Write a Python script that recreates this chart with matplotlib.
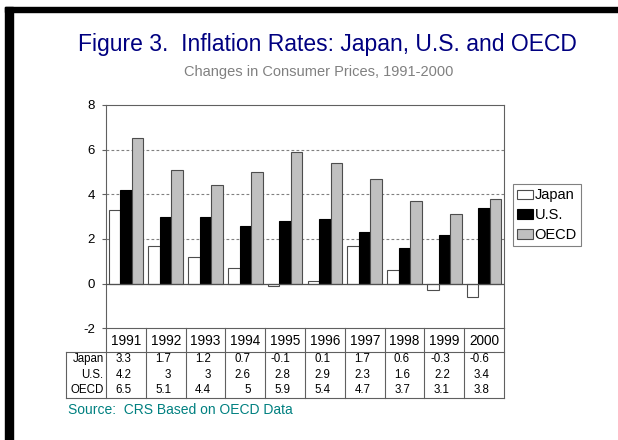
import matplotlib.pyplot as plt
import numpy as np
from matplotlib.patches import Rectangle
from matplotlib.lines import Line2D

plt.rcParams['font.family'] = ['Liberation Sans', 'DejaVu Sans']
plt.rcParams['axes.unicode_minus'] = False

# data
years = ["1991", "1992", "1993", "1994", "1995", "1996", "1997", "1998", "1999", "2000"]
japan = [3.3, 1.7, 1.2, 0.7, -0.1, 0.1, 1.7, 0.6, -0.3, -0.6]
us = [4.2, 3, 3, 2.6, 2.8, 2.9, 2.3, 1.6, 2.2, 3.4]
oecd = [6.5, 5.1, 4.4, 5, 5.9, 5.4, 4.7, 3.7, 3.1, 3.8]
series_names = ["Japan", "U.S.", "OECD"]

W, H = 618, 440
fig = plt.figure(figsize=(W / 100, H / 100), dpi=100)

# axes placed in pixel coords of the reference
ax_l, ax_r, ax_t, ax_b = 106, 504, 105, 328.3
ax = fig.add_axes([ax_l / W, 1 - ax_b / H, (ax_r - ax_l) / W, (ax_b - ax_t) / H])

def ay(py):
    # pixel row -> axes fraction (can go below 0 for the table)
    return (ax_b - py) / (ax_b - ax_t)

x = np.arange(len(years))
bw = 0.29
edge = "#4d4d4d"
ax.bar(x - bw, japan, bw, color="white", edgecolor=edge, linewidth=0.8, label=series_names[0], zorder=3)
ax.bar(x, us, bw, color="black", edgecolor="black", linewidth=0.8, label=series_names[1], zorder=3)
ax.bar(x + bw, oecd, bw, color="#c0c0c0", edgecolor=edge, linewidth=0.8, label=series_names[2], zorder=3)

ax.set_xlim(-0.5, len(years) - 0.5)
ax.set_ylim(-2, 8)
ax.set_yticks([-2, 0, 2, 4, 6, 8])
ax.set_xticks([])
ax.tick_params(axis='y', length=3, width=0.8, color="#606060", labelsize=9.5, pad=5)
for s in ax.spines.values():
    s.set_color("#606060")
    s.set_linewidth(0.8)

for g in [2, 4, 6]:
    ax.axhline(g, color="#808080", linestyle=(0, (2.5, 2)), linewidth=0.8, zorder=1)
ax.axhline(0, color="#505050", linewidth=0.9, zorder=4)

# legend
leg = ax.legend(loc="upper left", bbox_to_anchor=(512.5 / W, 1 - 184 / H), bbox_transform=fig.transFigure,
                frameon=True, fancybox=False, fontsize=10.5, handlelength=1.1, handleheight=0.6,
                handletextpad=0.1, borderpad=0.3, labelspacing=0.4, borderaxespad=0)
leg.get_frame().set_edgecolor("#606060")
leg.get_frame().set_linewidth(0.8)

# data table under the axis
tcol = "#606060"
y_head = 351.7
y_bot = 398
trans = ax.get_xaxis_transform()
for b in np.arange(-0.5, len(years) + 0.5):
    ax.add_line(Line2D([b, b], [ay(ax_b), ay(y_bot)], transform=trans, color=tcol, lw=0.8, clip_on=False))
ax.add_line(Line2D([-1.5, -1.5], [ay(y_head), ay(y_bot)], transform=trans, color=tcol, lw=0.8, clip_on=False))
for yy in [y_head, y_bot]:
    ax.add_line(Line2D([-1.5, len(years) - 0.5], [ay(yy), ay(yy)], transform=trans, color=tcol, lw=0.8, clip_on=False))

for i, yr in enumerate(years):
    ax.text(i, ay(340.5), yr, transform=trans, ha="center", va="center", fontsize=9.8)

rows = [japan, us, oecd]
row_y = [359.3, 374.8, 390.2]
for name, vals, py in zip(series_names, rows, row_y):
    ax.text(-0.56, ay(py), name, transform=trans, ha="right", va="center", fontsize=8.3)
    for i, v in enumerate(vals):
        ax.text(i + 0.14, ay(py), f"{v:g}", transform=trans, ha="right", va="center", fontsize=8.3)

# titles and source
fig.text(327 / W, 1 - 45 / H, "Figure 3.  Inflation Rates: Japan, U.S. and OECD", ha="center", va="center",
         fontsize=16.5, color="#000080")
fig.text(319 / W, 1 - 72 / H, "Changes in Consumer Prices, 1991-2000", ha="center", va="center",
         fontsize=10.5, color="#808080")
fig.text(68 / W, 1 - 410 / H, "Source:  CRS Based on OECD Data", ha="left", va="center",
         fontsize=10, color="#008080")

# black frame pieces at top and left
fig.patches.append(Rectangle((5 / W, 0), 8 / W, 1 - 7 / H, transform=fig.transFigure, color="black"))
fig.patches.append(Rectangle((5 / W, 1 - 12 / H), 1 - 5 / W, 5 / H, transform=fig.transFigure, color="black"))

fig.savefig("out.png", dpi=100)
